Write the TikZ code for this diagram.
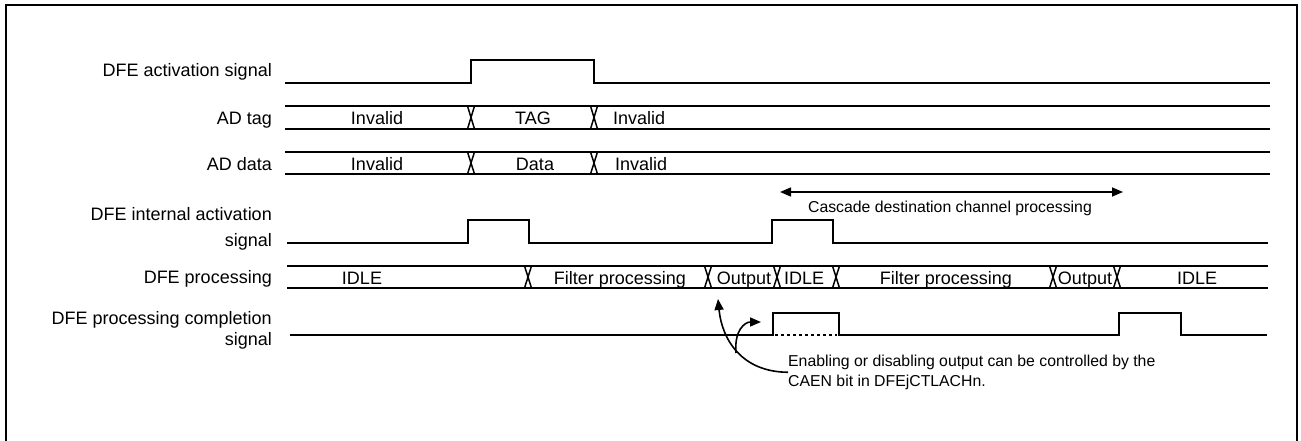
\documentclass[tikz,border=0pt]{standalone}
\usepackage{fontspec}
\setmainfont{Liberation Sans}
\usetikzlibrary{arrows.meta}

\begin{document}
\begin{tikzpicture}[
  x=1pt,y=-1pt,
  every node/.style={font=\fontsize{18}{21.5}\selectfont,inner sep=0pt,anchor=base},
  rowlabel/.style={anchor=base east,align=right},
  frame/.style={line width=2pt},
  sig/.style={line width=1.6pt,line join=miter},
  bus/.style={line width=1.5pt},
  note/.style={font=\fontsize{15.8}{19.3}\selectfont,align=left},
  arr/.style={-{Triangle[length=11pt,width=9pt]},line width=1.6pt},
  dblarr/.style={{Triangle[length=11pt,width=9pt]}-{Triangle[length=11pt,width=9pt]},line width=1.5pt}
]
\useasboundingbox (0,0) rectangle (1301,441);
\draw[frame] (5.5,441) -- (5.5,5.5) -- (1297,5.5) -- (1297,441);

% row labels (base of a two-line label is its last line)
\node[rowlabel] (lact) at (272,77) {DFE activation signal};
\node[rowlabel] (ltag) at (272,124.5) {AD tag};
\node[rowlabel] (ldata) at (272,170.5) {AD data};
\node[rowlabel] (lint) at (272,246.5) {DFE internal activation\\[4.5pt]signal};
\node[rowlabel] (lproc) at (272,283) {DFE processing};
\node[rowlabel] (ldone) at (272,345.5) {DFE processing completion\\signal};

% DFE activation signal
\draw[sig] (285,83) -- (471,83) -- (471,60) -- (594,60) -- (594,83) -- (1270,83);

% AD tag
\draw[bus] (285,106) -- (1270,106) (285,129) -- (1270,129);
\draw[bus] (467.5,106) -- (474.5,129) (467.5,129) -- (474.5,106);
\draw[bus] (590.5,106) -- (597.5,129) (590.5,129) -- (597.5,106);
\node (tag1) at (377,124.5) {Invalid};
\node (tag2) at (533,124.5) {TAG};
\node[anchor=base west] (tag3) at (613,124.5) {Invalid};

% AD data
\draw[bus] (285,152) -- (1270,152) (285,174) -- (1270,174);
\draw[bus] (467.5,152) -- (474.5,174) (467.5,174) -- (474.5,152);
\draw[bus] (590.5,152) -- (597.5,174) (590.5,174) -- (597.5,152);
\node (dat1) at (377,170) {Invalid};
\node (dat2) at (535,170) {Data};
\node[anchor=base west] (dat3) at (615,170) {Invalid};

% cascade range
\coordinate (casl) at (780,192);
\coordinate (casr) at (1123,192);
\draw[dblarr] (casl) -- (casr);
\node[note] (cas) at (950,212) {Cascade destination channel processing};

% DFE internal activation signal
\draw[sig] (287,243) -- (468,243) -- (468,220) -- (529,220) -- (529,243)
  -- (772,243) -- (772,220) -- (833,220) -- (833,243) -- (1268,243);

% DFE processing
\draw[bus] (287,266) -- (1268,266) (287,288) -- (1268,288);
\draw[bus] (524.5,266) -- (531.5,288) (524.5,288) -- (531.5,266);
\draw[bus] (704.5,266) -- (711.5,288) (704.5,288) -- (711.5,266);
\draw[bus] (773.5,266) -- (780.5,288) (773.5,288) -- (780.5,266);
\draw[bus] (832.5,266) -- (839.5,288) (832.5,288) -- (839.5,266);
\draw[bus] (1049.5,266) -- (1056.5,288) (1049.5,288) -- (1056.5,266);
\draw[bus] (1113.5,266) -- (1120.5,288) (1113.5,288) -- (1120.5,266);
\node (st1) at (362,284) {IDLE};
\node (st2) at (620,284) {Filter processing};
\node (st3) at (744,284) {Output};
\node (st4) at (804,284) {IDLE};
\node (st5) at (946,284) {Filter processing};
\node (st6) at (1085,284) {Output};
\node (st7) at (1197,284) {IDLE};

% DFE processing completion signal
\draw[sig] (290,335) -- (773,335) -- (773,313) -- (839,313) -- (839,335)
  -- (1119,335) -- (1119,313) -- (1181,313) -- (1181,335) -- (1267,335);
\draw[line width=1.6pt,white] (775,335) -- (837,335);
\draw[line width=1.6pt,dash pattern=on 3pt off 3pt] (775,335) -- (837,335);

% note on output enable
\node[note,anchor=base west] (caen) at (788,386) {Enabling or disabling output can be controlled by the\\CAEN bit in DFEjCTLACHn.};
\coordinate (outtip) at (718,299);
\coordinate (fork) at (736,353);
\coordinate (pulsetip) at (761,322);
\draw[arr] (caen.west) .. controls (742,372) and (722,340) .. (outtip);
\draw[arr] (fork) .. controls (734,330) and (745,322) .. (pulsetip);
\end{tikzpicture}
\end{document}
